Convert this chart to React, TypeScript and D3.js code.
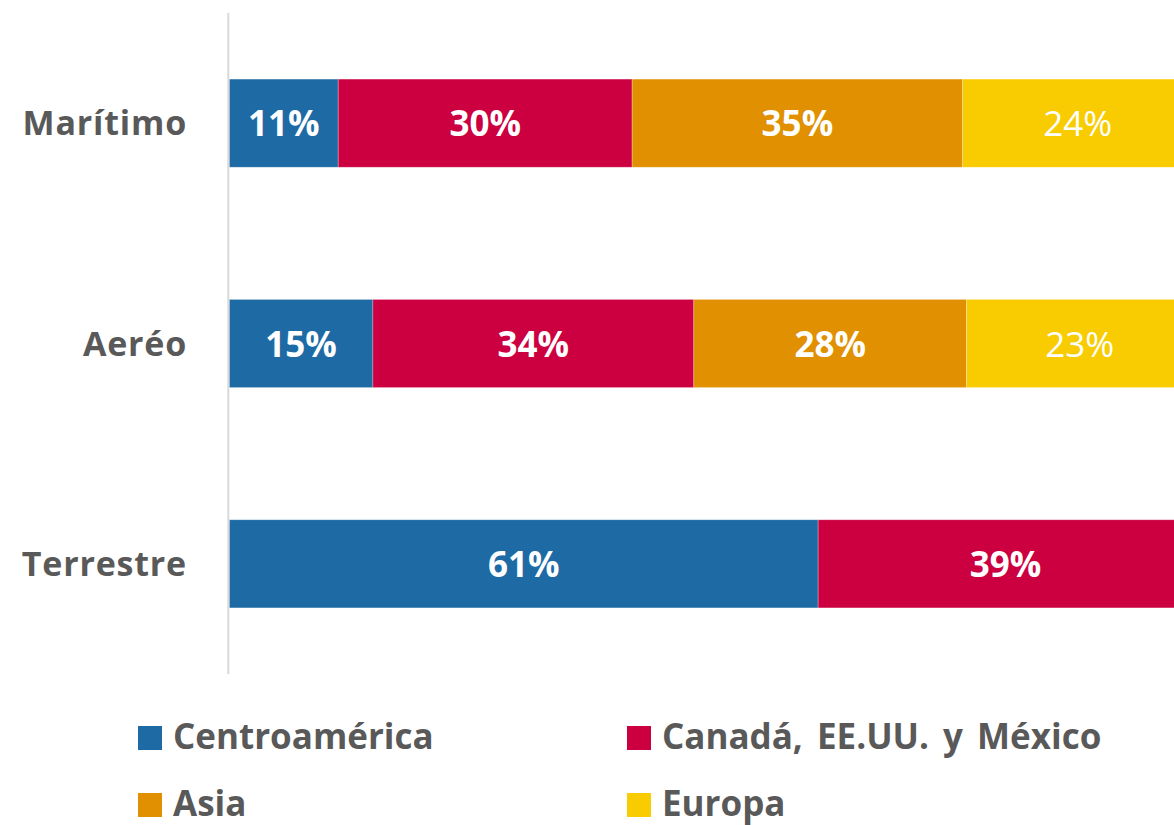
import React from "react";
import * as d3 from "d3";

const categories = ["Marítimo", "Aeréo", "Terrestre"];
const seriesNames = ["Centroamérica", "Canadá, EE.UU. y México", "Asia", "Europa"];
const seriesColors = ["#1d6aa4", "#cc0040", "#e09000", "#f8cc00"];
// shares (percent of the 100% bar)
const centroamerica = [11.3, 14.9, 61.1];
const canada = [30.5, 33.3, 38.9];
const asia = [34.3, 28.3, 0];
const europa = [23.9, 23.5, 0];
// data labels as printed in the chart
const centroamericaLabels = ["11%", "15%", "61%"];
const canadaLabels = ["30%", "34%", "39%"];
const asiaLabels = ["35%", "28%", ""];
const europaLabels = ["24%", "23%", ""];

const W = 1174;
const H = 825;
const FONT = "'Open Sans', Lato, sans-serif";
const TEXT = "#595959";

export default function App() {
  const seriesValues = [centroamerica, canada, asia, europa];
  const seriesLabels = [centroamericaLabels, canadaLabels, asiaLabels, europaLabels];
  const rows = categories.map((c, i) => {
    const r: any = { cat: c };
    seriesNames.forEach((s, j) => (r[s] = seriesValues[j][i]));
    return r;
  });
  const stacked = d3.stack<any>().keys(seriesNames)(rows);

  const x = d3.scaleLinear().domain([0, 100]).range([229.3, 1193]);
  const y = d3.scaleBand().domain(categories).range([13, 674]).paddingInner(0.6).paddingOuter(0.3);

  const legendItems = [
    { i: 0, x: 138, y: 726 },
    { i: 1, x: 627, y: 726 },
    { i: 2, x: 138, y: 793 },
    { i: 3, x: 627, y: 793 },
  ];

  return (
    <div style={{ position: "absolute", left: 0, top: 0 }}>
      <svg width={W} height={H} style={{ display: "block", overflow: "hidden" }} fontFamily={FONT}>
        <rect width={W} height={H} fill="#ffffff" />
        {stacked.map((layer, j) => (
          <g key={layer.key}>
            {layer.map((d, i) => {
              const w = x(d[1]) - x(d[0]);
              if (w <= 0) return null;
              return (
                <rect
                  key={i}
                  x={x(d[0])}
                  y={y(categories[i])}
                  width={w}
                  height={y.bandwidth()}
                  fill={seriesColors[j]}
                  stroke="#ffffff"
                  strokeOpacity={0.35}
                  strokeWidth={0.75}
                />
              );
            })}
          </g>
        ))}
        {stacked.map((layer, j) => (
          <g key={"l" + layer.key}>
            {layer.map((d, i) => {
              const lab = seriesLabels[j][i];
              if (!lab) return null;
              return (
                <text
                  key={i}
                  x={(x(d[0]) + x(d[1])) / 2}
                  y={y(categories[i])! + y.bandwidth() / 2 + 13}
                  textAnchor="middle"
                  fill="#ffffff"
                  fontSize={35}
                  fontWeight={j === 3 ? 400 : 700}
                >
                  {lab}
                </text>
              );
            })}
          </g>
        ))}
        <line x1={228.3} x2={228.3} y1={13} y2={674} stroke="#d9d9d9" strokeWidth={2} />
        {categories.map((c) => (
          <text
            key={c}
            x={187}
            y={y(c)! + y.bandwidth() / 2 + 12}
            textAnchor="end"
            fill={TEXT}
            fontSize={34}
            fontWeight={700}
            letterSpacing={0.8}
          >
            {c}
          </text>
        ))}
        {legendItems.map((it) => (
          <g key={it.i}>
            <rect x={it.x} y={it.y} width={24} height={24} fill={seriesColors[it.i]} />
            <text
              x={it.x + 35}
              y={it.y + 23}
              fill={TEXT}
              fontSize={35}
              fontWeight={700}
              wordSpacing={5}
            >
              {seriesNames[it.i]}
            </text>
          </g>
        ))}
      </svg>
    </div>
  );
}
